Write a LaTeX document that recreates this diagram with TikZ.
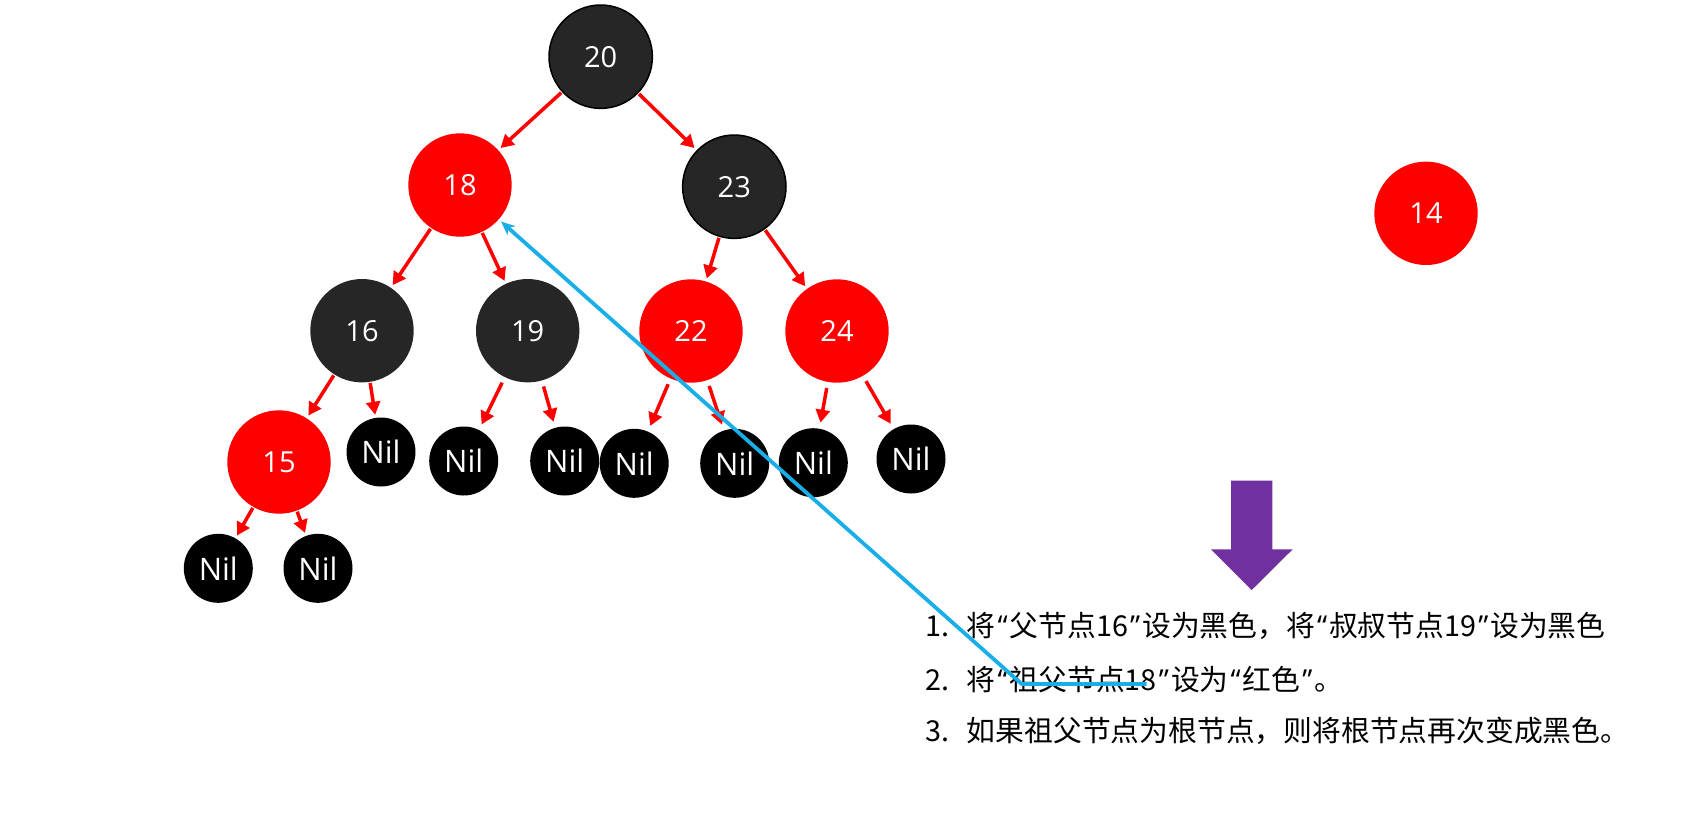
\documentclass[tikz,border=0pt]{standalone}
\usepackage{fontspec}
\setmainfont{Open Sans}
\newfontfamily\cjk{Noto Sans CJK SC}
\newfontfamily\latinq{Open Sans}
\usetikzlibrary{arrows.meta}
\definecolor{rbred}{HTML}{FF0000}
\definecolor{rbdark}{HTML}{262626}
\definecolor{lineblue}{HTML}{1AAEE8}
\definecolor{arrowpurple}{HTML}{7030A0}
\newcommand\myoq{\kern2pt{\latinq “}\kern2pt}
\newcommand\mycq{\kern2pt{\latinq ”}\kern2pt}
\tikzset{
  rbnode/.style={circle, minimum size=103.4pt, inner sep=0pt, text=white, font=\fontsize{29}{29}\selectfont},
  rednode/.style={rbnode, fill=rbred},
  darknode/.style={rbnode, fill=rbdark},
  darkrim/.style={darknode, draw=black, line width=1.5pt},
  nilnode/.style={circle, minimum size=69pt, inner sep=0pt, fill=black, text=white, font=\fontsize{31}{31}\selectfont},
  rbedge/.style={draw=rbred, line width=3.5pt, -{Triangle[length=13pt,width=14pt]}, shorten >=3pt, shorten <=1pt},
  blueline/.style={draw=lineblue, line width=3.8pt, line join=round, -{Stealth[length=14pt,width=12pt]}},
  textline/.style={anchor=base west, inner sep=0pt, text=black, font=\cjk\fontsize{28.8}{28.8}\selectfont},
}
\begin{document}
\begin{tikzpicture}[x=1pt,y=-1pt]
\useasboundingbox (0,0) rectangle (1691,823);
% tree nodes
\node[darkrim] (n20) at (600.7,56.7) {20};
\node[rednode] (n18) at (460,185) {18};
\node[darkrim] (n23) at (734.3,186.7) {23};
\node[darknode] (n16) at (362,330.7) {16};
\node[darknode] (n19) at (527.7,330.7) {19};
\node[rednode] (n22) at (691,331) {22};
\node[rednode] (n24) at (837,331) {24};
\node[rednode] (n15) at (279,462) {15};
\node[rednode] (n14) at (1426,213.3) {14};
% nil leaves
\node[nilnode] (nil16) at (381,452) {Nil};
\node[nilnode] (nil19a) at (463.7,461) {Nil};
\node[nilnode] (nil19b) at (564.7,461) {Nil};
\node[nilnode] (nil22a) at (634.2,463.3) {Nil};
\node[nilnode] (nil22b) at (734.7,463.3) {Nil};
\node[nilnode] (nil24a) at (813.3,462.7) {Nil};
\node[nilnode] (nil24b) at (911,459) {Nil};
\node[nilnode] (nil15a) at (218.3,568.3) {Nil};
\node[nilnode] (nil15b) at (318,568.3) {Nil};
% edges
\draw[rbedge] (n20) -- (n18);
\draw[rbedge] (n20) -- (n23);
\draw[rbedge] (n18) -- (n16);
\draw[rbedge] (n18) -- (n19);
\draw[rbedge] (n23) -- (n22);
\draw[rbedge] (n23) -- (n24);
\draw[rbedge] (n16) -- (n15);
\draw[rbedge] (n16) -- (nil16);
\draw[rbedge, shorten <=6pt, shorten >=6pt] (n19) -- (nil19a);
\draw[rbedge, shorten <=6pt, shorten >=6pt] (n19) -- (nil19b);
\draw[rbedge, shorten <=6pt, shorten >=6pt] (n22) -- (nil22a);
\draw[rbedge, shorten <=6pt, shorten >=6pt] (n22) -- (nil22b);
\draw[rbedge, shorten <=6pt, shorten >=6pt] (n24) -- (nil24a);
\draw[rbedge, shorten <=6pt, shorten >=6pt] (n24) -- (nil24b);
\draw[rbedge] (n15) -- (nil15a);
\draw[rbedge] (n15) -- (nil15b);
% purple down arrow
\fill[arrowpurple] (1231,480.7) -- (1272.3,480.7) -- (1272.3,549.3) -- (1292.7,549.3)
  -- (1251.7,590) -- (1211,549.3) -- (1231,549.3) -- cycle;
% text lines
\node[textline] (t1) at (925,636.7) {\makebox[41.7pt][l]{1.}将\myoq 父节点16\mycq 设为黑色，将\myoq 叔叔节点19\mycq 设为黑色};
\node[textline] (t2) at (925,690) {\makebox[41.7pt][l]{2.}将\myoq 祖父节点18\mycq 设为\myoq 红色\mycq 。};
\node[textline] (t3) at (925,741.7) {\makebox[41.7pt][l]{3.}如果祖父节点为根节点，则将根节点再次变成黑色。};
% blue annotation stroke
\coordinate (bend) at (1146.7,684);
\coordinate (bcorner) at (1021.7,684);
\draw[blueline, shorten >=3pt] (bend) -- (bcorner) -- (n18);
\end{tikzpicture}
\end{document}
